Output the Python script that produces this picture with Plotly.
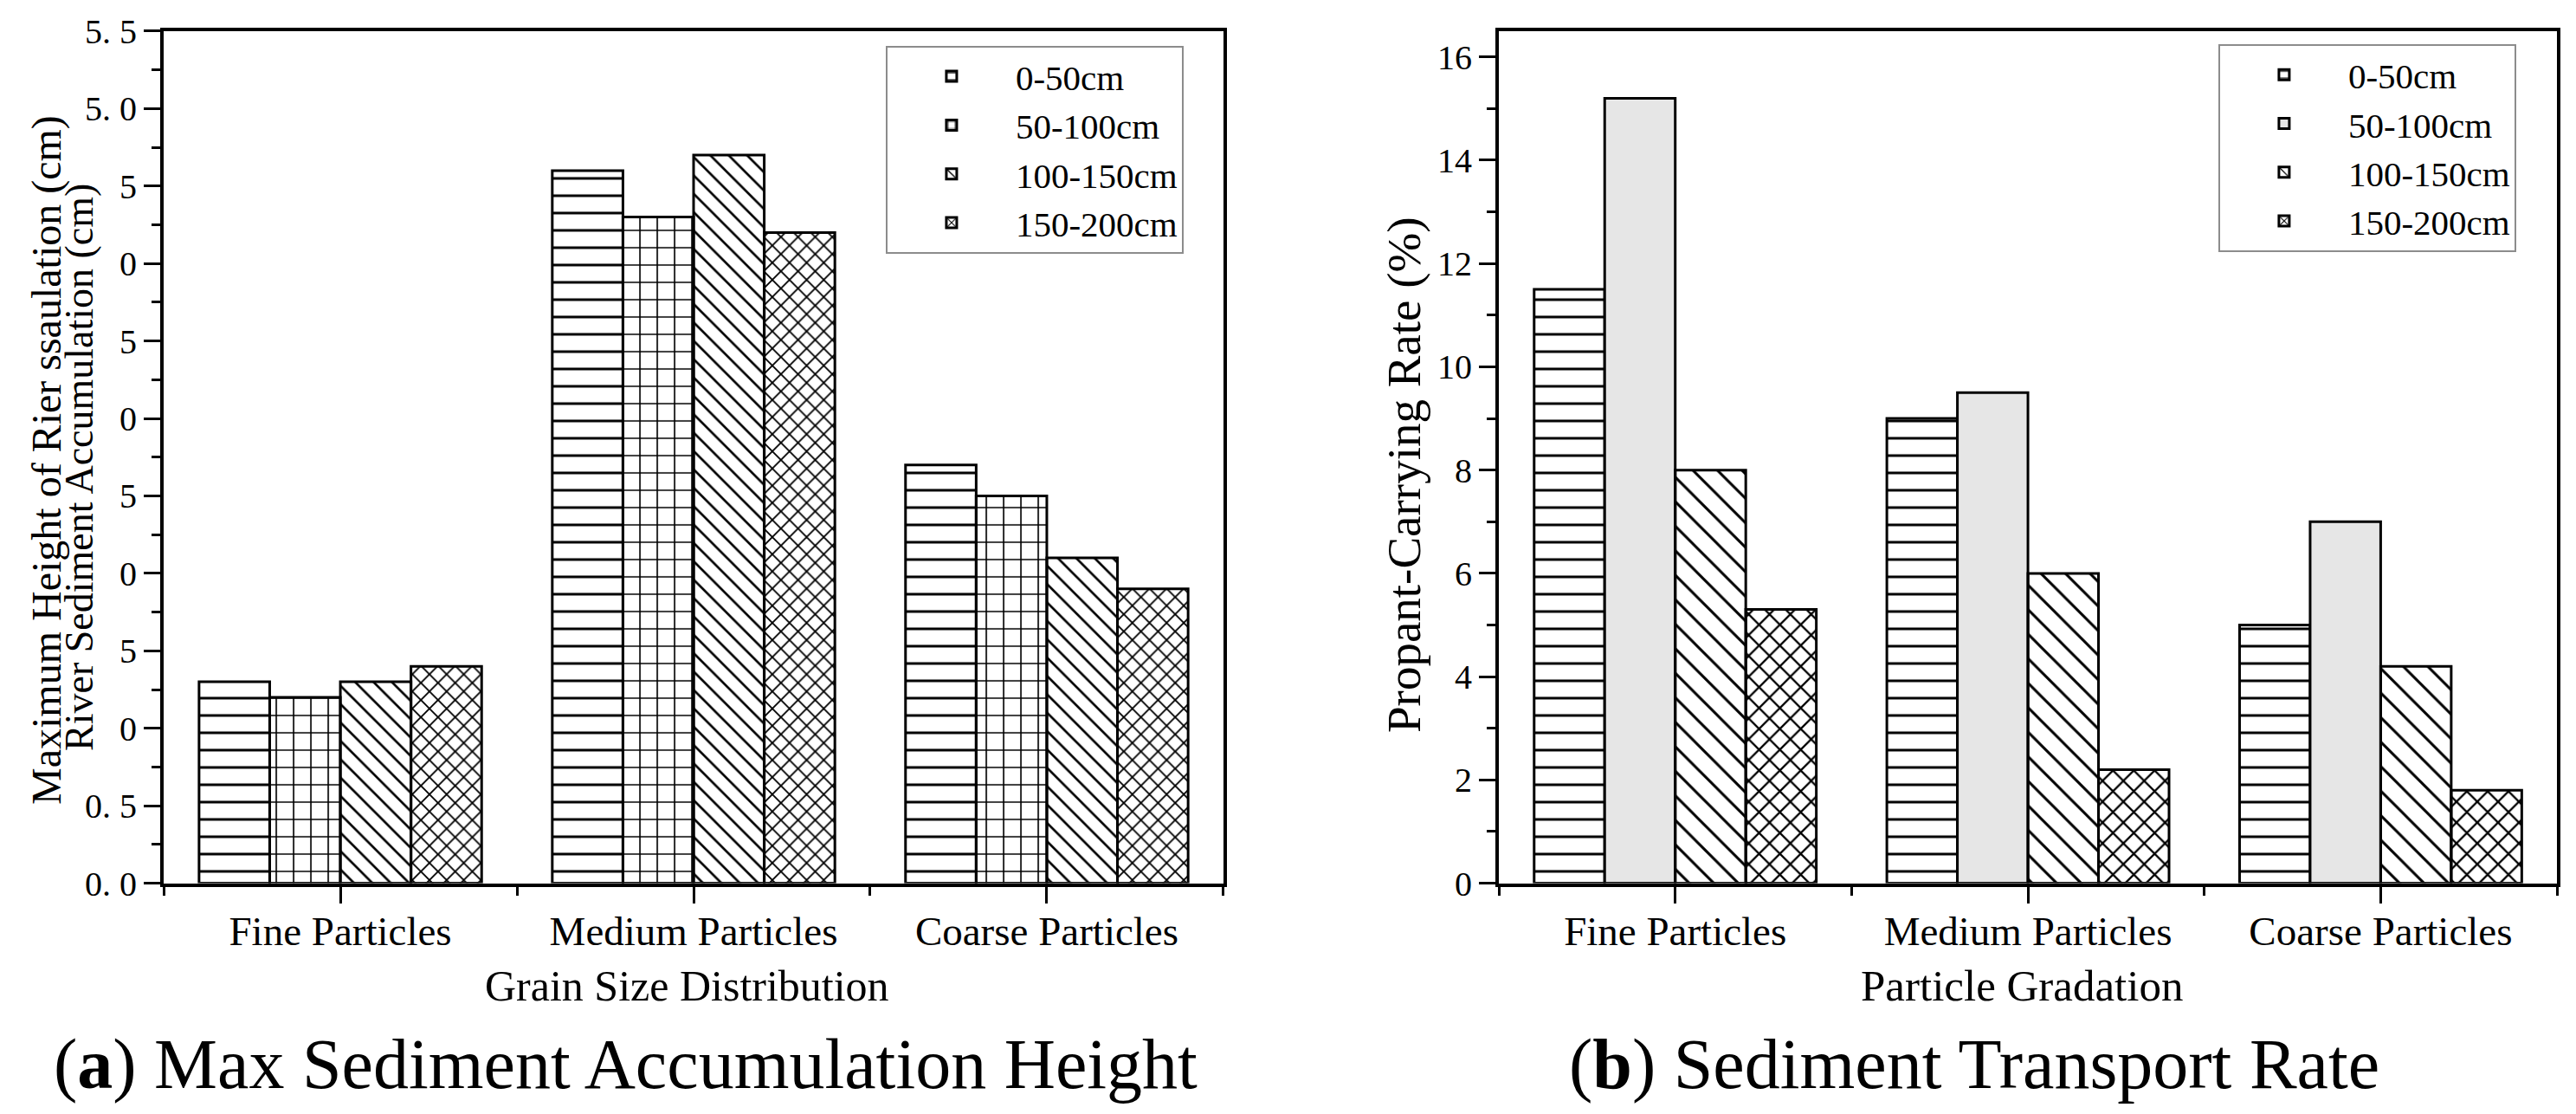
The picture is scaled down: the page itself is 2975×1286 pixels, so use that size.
import plotly.graph_objects as go

# categories and series
categories = ["Fine Particles", "Medium Particles", "Coarse Particles"]
series = ["0-50cm", "50-100cm", "100-150cm", "150-200cm"]

# (a) max sediment accumulation height (cm)
height_0_50 = [1.3, 4.6, 2.7]
height_50_100 = [1.2, 4.3, 2.5]
height_100_150 = [1.3, 4.7, 2.1]
height_150_200 = [1.4, 4.2, 1.9]

# (b) propant-carrying rate (%)
rate_0_50 = [11.5, 9.0, 5.0]
rate_50_100 = [15.2, 9.5, 7.0]
rate_100_150 = [8.0, 6.0, 4.2]
rate_150_200 = [5.3, 2.2, 1.8]

# left y ticks, labels as printed in the source figure
left_yticks = [0, 0.5, 1.0, 1.5, 2.0, 2.5, 3.0, 3.5, 4.0, 4.5, 5.0, 5.5]
left_yticklabels = ["0. 0", "0. 5", "0", "5", "0", "5", "0", "5", "0", "5", "5. 0", "5. 5"]

SERIF = "Liberation Serif"
xpos = list(range(len(categories)))

left_vals = [height_0_50, height_50_100, height_100_150, height_150_200]
right_vals = [rate_0_50, rate_50_100, rate_100_150, rate_150_200]

left_patterns = [
    dict(shape="-", size=20, solidity=0.15),
    dict(shape="+", size=20, solidity=0.16),
    dict(shape="\\", size=15, solidity=0.18),
    dict(shape="x", size=14, solidity=0.25),
]
right_patterns = [
    dict(shape="-", size=20, solidity=0.15),
    None,  # grey fill, no hatch
    dict(shape="\\", size=20, solidity=0.15),
    dict(shape="x", size=17, solidity=0.25),
]

fig = go.Figure()

for name, vals, pat in zip(series, left_vals, left_patterns):
    fig.add_trace(go.Bar(
        x=xpos, y=vals, name=name, xaxis="x", yaxis="y", legend="legend",
        marker=dict(color="white", line=dict(color="black", width=3),
                    pattern=dict(fgcolor="black", fillmode="replace", **pat)),
    ))

for name, vals, pat in zip(series, right_vals, right_patterns):
    if pat is None:
        marker = dict(color="#e6e6e6", line=dict(color="black", width=3))
    else:
        marker = dict(color="white", line=dict(color="black", width=3),
                      pattern=dict(fgcolor="black", fillmode="replace", **pat))
    fig.add_trace(go.Bar(
        x=xpos, y=vals, name=name, xaxis="x2", yaxis="y2", legend="legend2",
        marker=marker,
    ))

axis_common = dict(
    showline=True, linewidth=4, linecolor="black", mirror=True,
    showgrid=False, zeroline=False, automargin=False,
    ticks="outside", ticklen=19, tickwidth=3, tickcolor="black",
)

xaxis_common = dict(
    axis_common,
    range=[-0.5, 2.5], tickvals=xpos, ticktext=categories,
    minor=dict(tickmode="linear", tick0=0.5, dtick=1, ticks="outside",
               ticklen=10, tickwidth=3, tickcolor="black"),
    tickfont=dict(family=SERIF, size=47, color="black"),
    ticklabelstandoff=-8,
)

legend_common = dict(
    bgcolor="white", bordercolor="#8c8c8c", borderwidth=2,
    font=dict(family=SERIF, size=41, color="black"),
    xanchor="left", yanchor="top", itemwidth=138, tracegroupgap=0,
)

ydom = [0.2035, 0.978]

fig.update_layout(
    width=2959, height=1270,
    margin=dict(l=0, r=0, t=0, b=0),
    paper_bgcolor="white", plot_bgcolor="white",
    barmode="group", bargap=0.2, bargroupgap=0,
    xaxis=dict(xaxis_common, domain=[0.0612, 0.4748], anchor="y"),
    yaxis=dict(
        axis_common, domain=ydom, anchor="x", range=[0, 5.5],
        tickvals=left_yticks, ticktext=left_yticklabels,
        minor=dict(tickmode="linear", tick0=0.25, dtick=0.5, ticks="outside",
                   ticklen=10, tickwidth=3, tickcolor="black"),
        tickfont=dict(family=SERIF, size=40, color="black"),
    ),
    xaxis2=dict(xaxis_common, domain=[0.5823, 0.9953], anchor="y2"),
    yaxis2=dict(
        axis_common, domain=ydom, anchor="x2", range=[0, 16.5],
        tick0=0, dtick=2,
        minor=dict(tickmode="linear", tick0=1, dtick=2, ticks="outside",
                   ticklen=10, tickwidth=3, tickcolor="black"),
        tickfont=dict(family=SERIF, size=40, color="black"),
    ),
    legend=dict(legend_common, x=0.3430, y=0.9646),
    legend2=dict(legend_common, x=0.8631, y=0.9661),
)

# paper coords: fig is 2959 x 1270
def px(x):
    return x / 2959

def py(y):
    return 1 - y / 1270

notes = [
    # axis titles
    dict(text="Maximum Height of Rier ssaulation (cm)", x=px(46), y=py(523), textangle=-90, size=48),
    dict(text="River Sediment Accumulation (cm)", x=px(83), y=py(532), textangle=-90, size=46),
    dict(text="Grain Size Distribution", x=px(785), y=py(1130), textangle=0, size=50),
    dict(text="Propant-Carrying Rate (%)", x=px(1613), y=py(540), textangle=-90, size=55),
    dict(text="Particle Gradation", x=px(2327), y=py(1130), textangle=0, size=51),
    # panel captions
    dict(text="(<b>a</b>) Max Sediment Accumulation Height", x=px(714), y=py(1220), textangle=0, size=82),
    dict(text="(<b>b</b>) Sediment Transport Rate", x=px(2272), y=py(1220), textangle=0, size=82),
]
for n in notes:
    fig.add_annotation(
        text=n["text"], x=n["x"], y=n["y"], xref="paper", yref="paper",
        xanchor="center", yanchor="middle", textangle=n["textangle"],
        showarrow=False, font=dict(family=SERIF, size=n["size"], color="black"),
    )

fig.write_html("out.html")
